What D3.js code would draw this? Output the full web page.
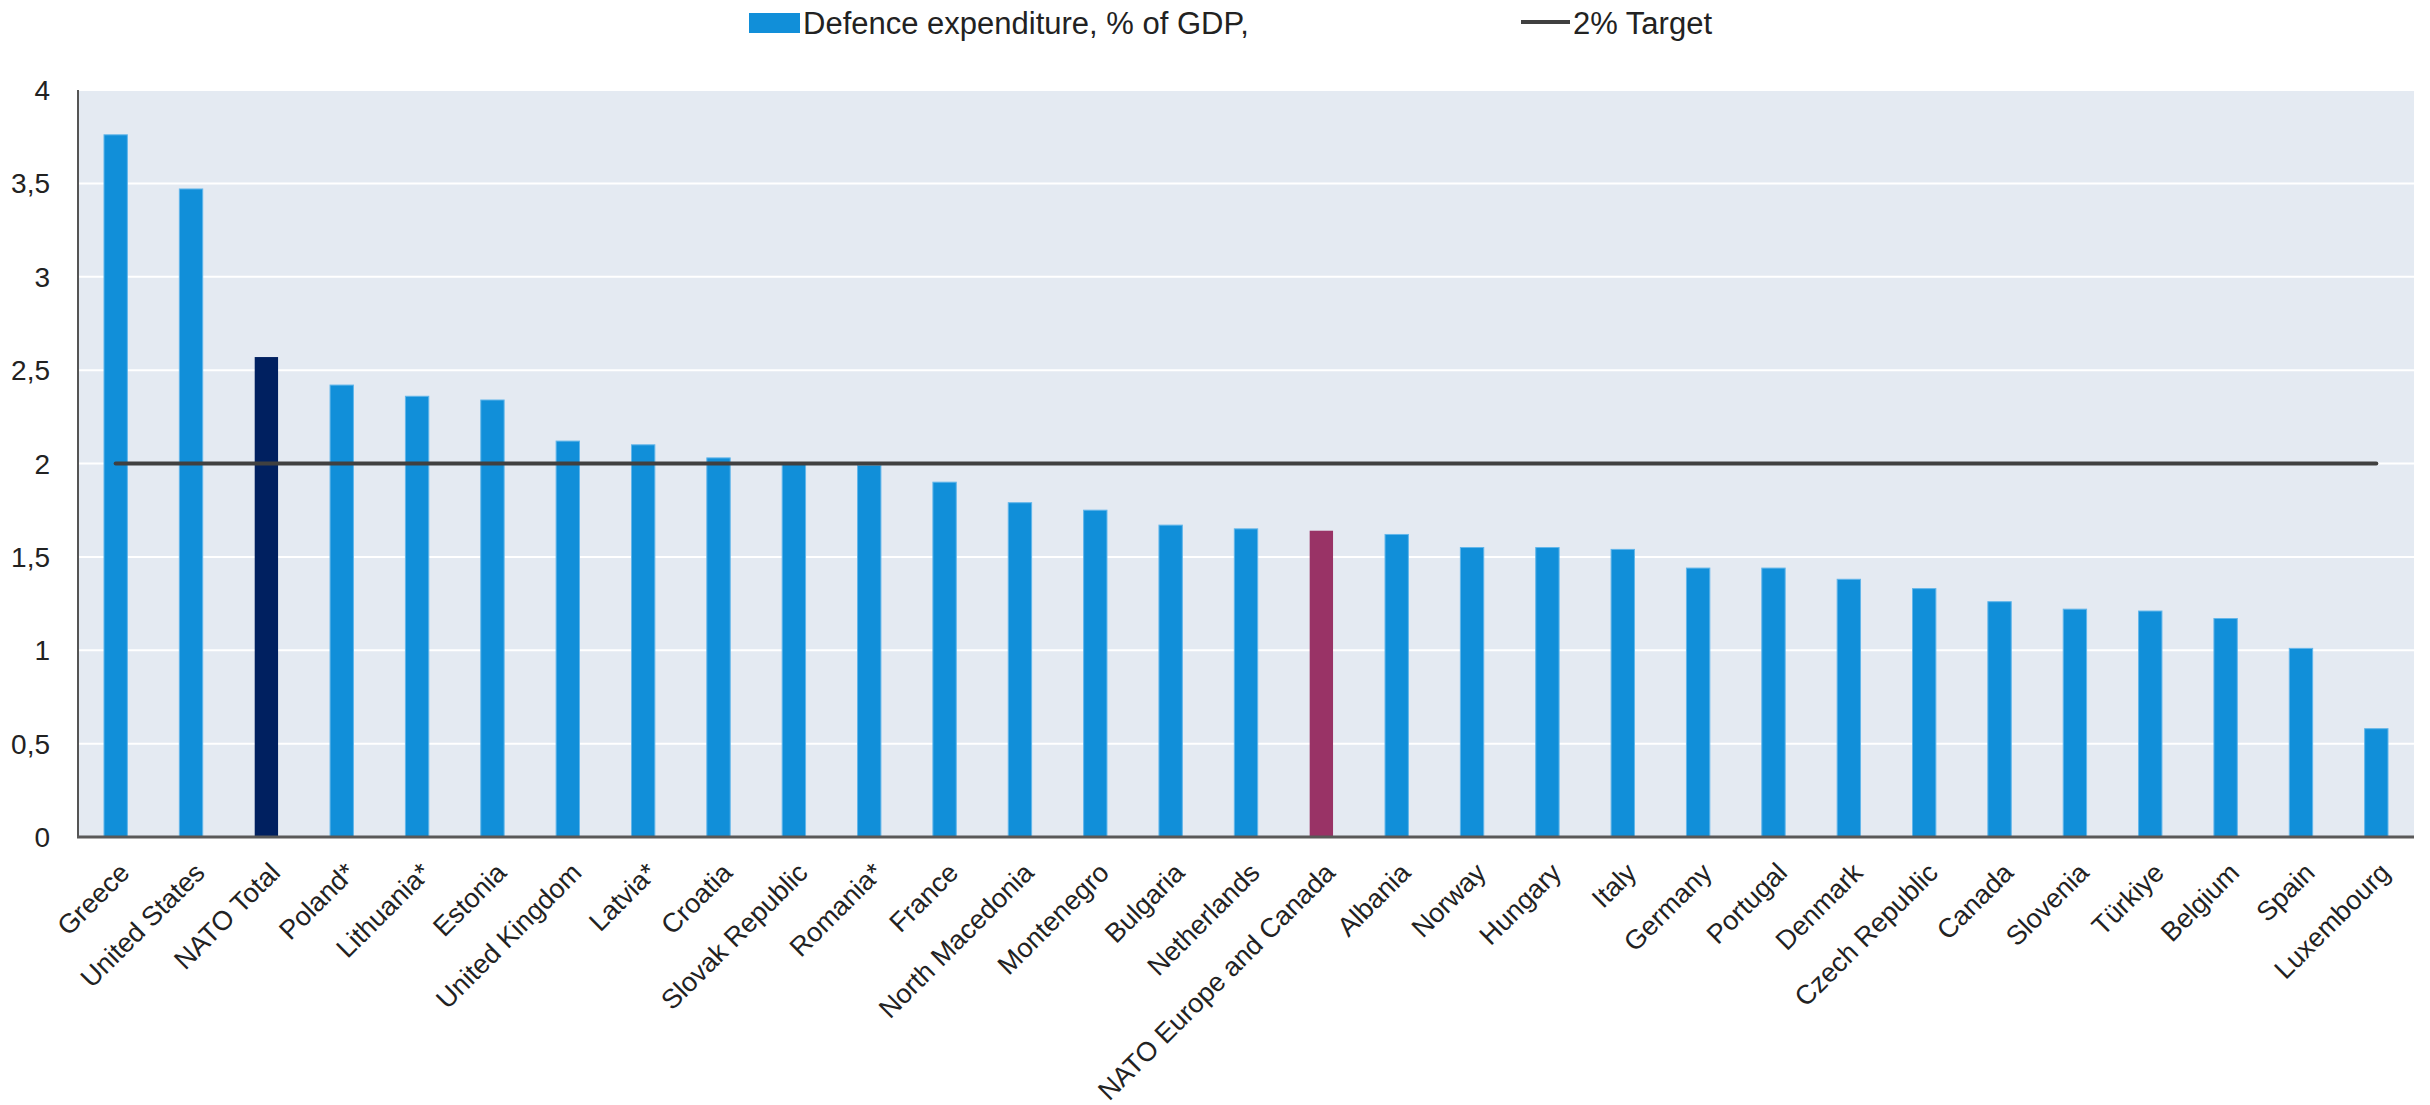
<!DOCTYPE html>
<html>
<head>
<meta charset="utf-8">
<script src="https://cdn.jsdelivr.net/npm/d3@7"></script>
<style>
  html, body { margin: 0; padding: 0; background: #fff; }
  svg { display: block; font-family: "Liberation Sans", Arial, sans-serif; }
</style>
</head>
<body>
<svg id="chart" width="2430" height="1105"></svg>
<script>
/*** DATA ***/
const countries = [
  "Greece", "United States", "NATO Total", "Poland*", "Lithuania*", "Estonia",
  "United Kingdom", "Latvia*", "Croatia", "Slovak Republic", "Romania*", "France",
  "North Macedonia", "Montenegro", "Bulgaria", "Netherlands", "NATO Europe and Canada",
  "Albania", "Norway", "Hungary", "Italy", "Germany", "Portugal", "Denmark",
  "Czech Republic", "Canada", "Slovenia", "Türkiye", "Belgium", "Spain", "Luxembourg"
];
const spending = [
  3.76, 3.47, 2.57, 2.42, 2.36, 2.34,
  2.12, 2.10, 2.03, 2.00, 1.99, 1.90,
  1.79, 1.75, 1.67, 1.65, 1.64,
  1.62, 1.55, 1.55, 1.54, 1.44, 1.44, 1.38,
  1.33, 1.26, 1.22, 1.21, 1.17, 1.01, 0.58
];
const target = 2;
const yTicks = [0, 0.5, 1, 1.5, 2, 2.5, 3, 3.5, 4];
const legendLabels = ["Defence expenditure, % of GDP,", "2% Target"];

/*** STYLE ***/
const barCol = "#118fd9";
const specialCol = { "NATO Total": "#002060", "NATO Europe and Canada": "#993366" };
const bgCol = "#e4eaf2";
const lineCol = "#404040";
const textCol = "#222";

const margin = { left: 78, right: 2414, top: 90, bottom: 837 };

const svg = d3.select("#chart");

const x = d3.scaleBand()
  .domain(countries)
  .range([margin.left, margin.right])
  .paddingInner(0.69)
  .paddingOuter(0.345);

const y = d3.scaleLinear()
  .domain([0, 4])
  .range([margin.bottom, margin.top]);

// plot background
svg.append("rect")
  .attr("x", margin.left)
  .attr("y", margin.top)
  .attr("width", margin.right - margin.left)
  .attr("height", margin.bottom - margin.top)
  .attr("fill", bgCol);

// gridlines
svg.append("g")
  .selectAll("line")
  .data(yTicks.filter(d => d > 0))
  .enter()
  .append("line")
    .attr("x1", margin.left)
    .attr("x2", margin.right)
    .attr("y1", d => y(d))
    .attr("y2", d => y(d))
    .attr("stroke", "#fff")
    .attr("stroke-width", 2);

// y tick labels
svg.append("g")
  .selectAll("text")
  .data(yTicks)
  .enter()
  .append("text")
    .attr("x", 50)
    .attr("y", d => y(d))
    .attr("dy", "0.36em")
    .attr("text-anchor", "end")
    .attr("font-size", 28)
    .attr("fill", textCol)
    .text(d => String(d).replace(".", ","));

// bars
svg.append("g")
  .selectAll("rect")
  .data(countries)
  .enter()
  .append("rect")
    .attr("x", d => x(d))
    .attr("y", (d, i) => y(spending[i]))
    .attr("width", x.bandwidth())
    .attr("height", (d, i) => y(0) - y(spending[i]))
    .attr("fill", d => specialCol[d] || barCol)
    .attr("stroke", d => specialCol[d] ? "none" : "#62b6ea")
    .attr("stroke-width", 1);

// 2% target line, first to last bar centre
svg.append("line")
  .attr("x1", x(countries[0]) + x.bandwidth() / 2)
  .attr("x2", x(countries[countries.length - 1]) + x.bandwidth() / 2)
  .attr("y1", y(target))
  .attr("y2", y(target))
  .attr("stroke", lineCol)
  .attr("stroke-width", 4)
  .attr("stroke-linecap", "round");

// axes
svg.append("line")
  .attr("x1", margin.left).attr("x2", margin.left)
  .attr("y1", margin.top).attr("y2", margin.bottom)
  .attr("stroke", "#555").attr("stroke-width", 2);
svg.append("line")
  .attr("x1", margin.left - 1).attr("x2", margin.right)
  .attr("y1", margin.bottom).attr("y2", margin.bottom)
  .attr("stroke", "#595959").attr("stroke-width", 3);

// x labels, rotated
svg.append("g")
  .selectAll("text")
  .data(countries)
  .enter()
  .append("text")
    .attr("transform", d => "translate(" + (x(d) + x.bandwidth() / 2 + 2) + "," + (margin.bottom + 24) + ") rotate(-45)")
    .attr("dy", "0.7em")
    .attr("text-anchor", "end")
    .attr("font-size", 27)
    .attr("fill", textCol)
    .text(d => d);

// legend
const leg = svg.append("g");
leg.append("rect")
  .attr("x", 749).attr("y", 13)
  .attr("width", 51).attr("height", 20)
  .attr("fill", barCol);
leg.append("text")
  .attr("x", 803).attr("y", 23)
  .attr("dy", "0.36em")
  .attr("font-size", 31)
  .attr("fill", textCol)
  .text(legendLabels[0]);
leg.append("line")
  .attr("x1", 1521).attr("x2", 1570)
  .attr("y1", 22).attr("y2", 22)
  .attr("stroke", lineCol).attr("stroke-width", 4);
leg.append("text")
  .attr("x", 1573).attr("y", 23)
  .attr("dy", "0.36em")
  .attr("font-size", 31)
  .attr("fill", textCol)
  .text(legendLabels[1]);
</script>
</body>
</html>
